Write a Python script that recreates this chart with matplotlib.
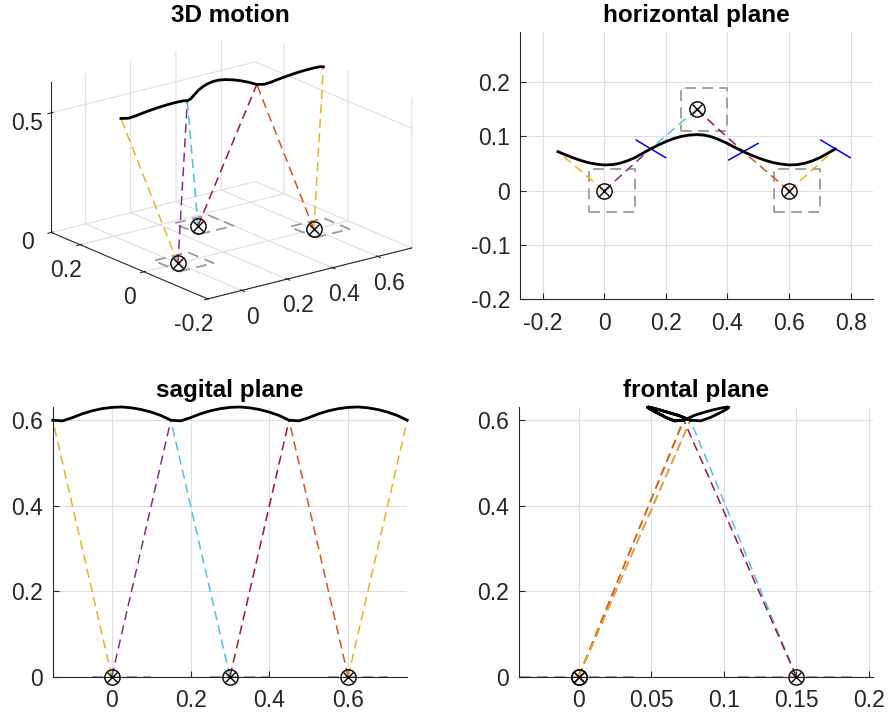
import matplotlib
matplotlib.use("Agg")
import matplotlib.pyplot as plt
import numpy as np

plt.rcParams['font.family'] = ['Liberation Sans', 'DejaVu Sans']
plt.rcParams['grid.color'] = '#dedede'
plt.rcParams['grid.linewidth'] = 0.8

# ---------------- data ----------------
# centre of mass trajectory (forward x, lateral y, height z)
com_x = [-0.15, -0.125, -0.1, -0.075, -0.05, -0.025, 0.0, 0.025, 0.05, 0.075, 0.1, 0.125,
         0.15, 0.175, 0.2, 0.225, 0.25, 0.275, 0.3, 0.325, 0.35, 0.375, 0.4, 0.425,
         0.45, 0.475, 0.5, 0.525, 0.55, 0.575, 0.6, 0.625, 0.65, 0.675, 0.7, 0.725, 0.75]
com_y = [0.072, 0.066, 0.0605, 0.0555, 0.0515, 0.049, 0.0475, 0.048, 0.0505, 0.055, 0.061, 0.069,
         0.077, 0.084, 0.0905, 0.096, 0.100, 0.1025, 0.1035, 0.1025, 0.099, 0.0935, 0.087, 0.0795,
         0.0725, 0.066, 0.0605, 0.0555, 0.0515, 0.049, 0.0475, 0.048, 0.0505, 0.055, 0.061, 0.069,
         0.077]
com_z = [0.600, 0.5985, 0.606, 0.615, 0.622, 0.627, 0.630, 0.631, 0.629, 0.625, 0.619, 0.611,
         0.600, 0.5985, 0.606, 0.615, 0.622, 0.627, 0.630, 0.631, 0.629, 0.625, 0.619, 0.611,
         0.600, 0.5985, 0.606, 0.615, 0.622, 0.627, 0.630, 0.631, 0.629, 0.625, 0.619, 0.611,
         0.600]

# footholds
feet_x = [0.0, 0.3, 0.6]
feet_y = [0.0, 0.15, 0.0]
foot_back = 0.05
foot_front = 0.10
foot_half_width = 0.04

# leg lines: (foot index, com sample index, colour)
leg_foot = [0, 0, 1, 1, 2, 2]
leg_com = [0, 12, 12, 24, 24, 36]
leg_colors = ['#EDB120', '#7E2F8E', '#4DBEEE', '#A2142F', '#D95319', '#EDB120']

# blue step-switch markers in the horizontal plane
switch_x0 = [0.104, 0.404, 0.703]
switch_y0 = [0.0932, 0.0567, 0.0932]
switch_x1 = [0.199, 0.499, 0.798]
switch_y1 = [0.061, 0.0872, 0.061]

# ---------------- figure ----------------
fig = plt.figure(figsize=(8.9, 7.17), dpi=100)

AXC = '#262626'
TFS = 16.5
TITLE_FS = 17.5
box_style = dict(color='#9a9a9a', lw=1.3, dashes=(6, 3.5))
leg_style = dict(lw=1.1, dashes=(6, 3.5))


def style2d(ax):
    ax.grid(True)
    ax.set_axisbelow(True)
    for s in ['top', 'right']:
        ax.spines[s].set_visible(False)
    for s in ['left', 'bottom']:
        ax.spines[s].set_color(AXC)
        ax.spines[s].set_linewidth(0.8)
    ax.tick_params(direction='in', length=4, width=0.8, colors=AXC, labelsize=TFS)
    ax.tick_params(axis='x', pad=9)
    ax.tick_params(axis='y', pad=7)


def feet_markers(ax, xs, ys, zs=None):
    if zs is None:
        ax.plot(xs, ys, 'o', ms=11, mfc='none', mec='k', mew=1.0, zorder=5)
        ax.plot(xs, ys, 'x', ms=7.5, mec='k', mew=1.0, zorder=5)
    else:
        ax.plot(xs, ys, zs, 'o', ms=11, mfc='none', mec='k', mew=1.0, zorder=5)
        ax.plot(xs, ys, zs, 'x', ms=7.5, mec='k', mew=1.0, zorder=5)


# ---------- horizontal plane ----------
axh = fig.add_axes([0.5843, 0.5826, 0.3966, 0.3732])
style2d(axh)
for fx, fy in zip(feet_x, feet_y):
    bx = [fx - foot_back, fx + foot_front, fx + foot_front, fx - foot_back, fx - foot_back]
    by = [fy - foot_half_width, fy - foot_half_width, fy + foot_half_width,
          fy + foot_half_width, fy - foot_half_width]
    axh.plot(bx, by, **box_style)
for fi, ci, c in zip(leg_foot, leg_com, leg_colors):
    axh.plot([feet_x[fi], com_x[ci]], [feet_y[fi], com_y[ci]], color=c, **leg_style)
for x0, y0, x1, y1 in zip(switch_x0, switch_y0, switch_x1, switch_y1):
    axh.plot([x0, x1], [y0, y1], color='b', lw=1.1)
axh.plot(com_x, com_y, color='k', lw=2)
feet_markers(axh, feet_x, feet_y)
axh.set_xlim(-0.273, 0.872)
axh.set_ylim(-0.197, 0.293)
axh.set_xticks([-0.2, 0, 0.2, 0.4, 0.6, 0.8])
axh.set_xticklabels(['-0.2', '0', '0.2', '0.4', '0.6', '0.8'])
axh.set_yticks([-0.2, -0.1, 0, 0.1, 0.2])
axh.set_yticklabels(['-0.2', '-0.1', '0', '0.1', '0.2'])
axh.set_title('horizontal plane', fontsize=TITLE_FS, fontweight='bold', pad=7)

# ---------- sagittal plane ----------
axs = fig.add_axes([0.0592, 0.0562, 0.3984, 0.3762])
style2d(axs)
for fx in feet_x:
    axs.plot([fx - foot_back, fx + foot_front], [0, 0], zorder=1, **box_style)
for fi, ci, c in zip(leg_foot, leg_com, leg_colors):
    axs.plot([feet_x[fi], com_x[ci]], [0, com_z[ci]], color=c, **leg_style)
axs.plot(com_x, com_z, color='k', lw=2)
feet_markers(axs, feet_x, [0, 0, 0])
for a in axs.lines:
    a.set_clip_on(False)
axs.set_xlim(-0.15, 0.75)
axs.set_ylim(0, 0.631)
axs.set_xticks([0, 0.2, 0.4, 0.6])
axs.set_xticklabels(['0', '0.2', '0.4', '0.6'])
axs.set_yticks([0, 0.2, 0.4, 0.6])
axs.set_yticklabels(['0', '0.2', '0.4', '0.6'])
axs.set_title('sagital plane', fontsize=TITLE_FS, fontweight='bold', pad=7)

# ---------- frontal plane ----------
axf = fig.add_axes([0.5831, 0.0562, 0.3974, 0.3762])
style2d(axf)
for fy in [feet_y[0], feet_y[1]]:
    axf.plot([fy - foot_half_width, fy + foot_half_width], [0, 0], zorder=1, **box_style)
for fi, ci, c in zip(leg_foot, leg_com, leg_colors):
    axf.plot([feet_y[fi], com_y[ci]], [0, com_z[ci]], color=c, **leg_style)
axf.plot(com_y, com_z, color='k', lw=2)
feet_markers(axf, feet_y, [0, 0, 0])
for a in axf.lines:
    a.set_clip_on(False)
axf.set_xlim(-0.041, 0.2025)
axf.set_ylim(0, 0.631)
axf.set_xticks([0, 0.05, 0.1, 0.15, 0.2])
axf.set_xticklabels(['0', '0.05', '0.1', '0.15', '0.2'])
axf.set_yticks([0, 0.2, 0.4, 0.6])
axf.set_yticklabels(['0', '0.2', '0.4', '0.6'])
axf.set_title('frontal plane', fontsize=TITLE_FS, fontweight='bold', pad=7)

# ---------- 3D motion ----------
ax3 = fig.add_axes([0.0056, 0.5544, 0.5, 0.42], projection='3d', proj_type='ortho')
ax3.view_init(elev=19, azim=-127.5)
ax3.set_box_aspect((1, 1, 0.62), zoom=1.28)
for axis in (ax3.xaxis, ax3.yaxis, ax3.zaxis):
    axis.set_pane_color((1, 1, 1, 0))
    axis.pane.set_edgecolor((1, 1, 1, 0))
    axis.line.set_color(AXC)
    axis.line.set_linewidth(0.8)
for fx, fy in zip(feet_x, feet_y):
    bx = [fx - foot_back, fx + foot_front, fx + foot_front, fx - foot_back, fx - foot_back]
    by = [fy - foot_half_width, fy - foot_half_width, fy + foot_half_width,
          fy + foot_half_width, fy - foot_half_width]
    ax3.plot(bx, by, [0] * 5, **box_style)
for fi, ci, c in zip(leg_foot, leg_com, leg_colors):
    ax3.plot([feet_x[fi], com_x[ci]], [feet_y[fi], com_y[ci]], [0, com_z[ci]], color=c, **leg_style)
ax3.plot(com_x, com_y, com_z, color='k', lw=2)
feet_markers(ax3, feet_x, feet_y, [0, 0, 0])
ax3.set_xlim(-0.15, 0.75)
ax3.set_ylim(-0.2, 0.29)
ax3.set_zlim(0, 0.63)
ax3.set_xticks([0, 0.2, 0.4, 0.6])
ax3.set_xticklabels(['0', '0.2', '0.4', '0.6'])
ax3.set_yticks([-0.2, 0, 0.2])
ax3.set_yticklabels(['-0.2', '0', '0.2'])
ax3.set_zticks([0, 0.5])
ax3.set_zticklabels(['0', '0.5'])
ax3.tick_params(labelsize=TFS, colors=AXC)
ax3.tick_params(axis='x', pad=0)
ax3.tick_params(axis='y', pad=0)
ax3.tick_params(axis='z', pad=-0.5)
fig.text(230 / 890, 1 - 22 / 717, '3D motion', fontsize=TITLE_FS, fontweight='bold',
         ha='center', va='baseline')

fig.savefig('out.png', dpi=100)
